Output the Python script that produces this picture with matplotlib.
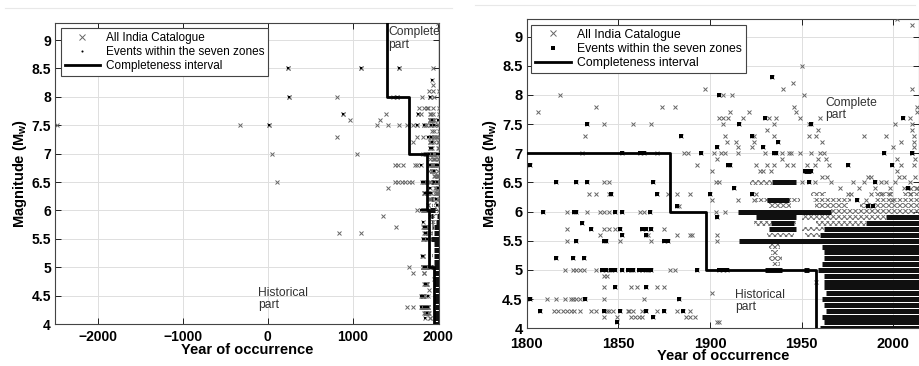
import numpy as np
import matplotlib
matplotlib.use("Agg")
import matplotlib.pyplot as plt
from matplotlib.ticker import FormatStrFormatter, MultipleLocator
from matplotlib.lines import Line2D

plt.rcParams['font.family'] = ['Liberation Sans', 'DejaVu Sans']
plt.rcParams['mathtext.fontset'] = 'custom'
plt.rcParams['mathtext.rm'] = 'Liberation Sans'
plt.rcParams['mathtext.bf'] = 'Liberation Sans:bold'
plt.rcParams['hatch.linewidth'] = 0.7

# ---------------- data ----------------
# pre-1800 events (All India Catalogue)
early_year = [245, 1095, 1546,
              257, 815, 1472, 1519,
              1785,
              890, 1390, 1773,
              970, 1323,
              -2480, -330, 20, 1290, 1410, 1546, 1644, 1715, 1760,
              815, 1753,
              1715,
              50, 1050,
              1492, 1538, 1597, 1727, 1762,
              105, 1492, 1538, 1580, 1620, 1660, 1695,
              1420, 1753, 1354, 1511,
              841, 1095,
              1668, 1715, 1644, 1715]
early_mag = [8.5, 8.5, 8.5,
             8.0, 8.0, 8.0, 8.0,
             7.8,
             7.7, 7.7, 7.7,
             7.6, 7.6,
             7.5, 7.5, 7.5, 7.5, 7.5, 7.5, 7.5, 7.5, 7.5,
             7.3, 7.3,
             7.2,
             7.0, 7.0,
             6.8, 6.8, 6.8, 6.8, 6.8,
             6.5, 6.5, 6.5, 6.5, 6.5, 6.5, 6.5,
             6.4, 6.0, 5.9, 5.7,
             5.6, 5.6,
             5.0, 4.9, 4.3, 4.3]
early_zone_year = [245, 257, 890, 1095, 1546, 1519, 20, 1773, 1760]
early_zone_mag = [8.5, 8.0, 7.7, 8.5, 8.5, 8.0, 7.5, 7.7, 7.5]

# post-1800 catalogue events (x only)
cat_year = [2002, 2010, 1950, 1945,
            1897, 1940, 2010,
            1818, 1907, 1912, 1951,
            1838, 1874, 1881, 1946, 2013,
            1806, 1911, 1921, 1947, 2013,
            1905, 1907, 1910, 1918, 1932, 1936, 1949, 1960, 2009,
            1842, 1858, 1868, 1907, 1935, 1954, 2001, 2010,
            1931, 1959, 2010,
            1832, 1908, 1924, 1935, 1954, 1958, 1984, 1996, 2011,
            1909, 1914, 1924, 1961, 2004, 2011,
            1915, 1923, 2000, 2011,
            1830, 1871, 1886, 1888, 1902, 1906, 1908, 1915, 1930, 1939, 1943, 1944, 1949, 1955, 1960, 1962, 2010,
            1904, 1939, 1959, 1963, 2002, 2012,
            1893, 1925, 1931, 1935, 1942, 1945, 1953, 1957, 1965, 2004, 2011,
            1901, 1927, 1929, 1933, 2002,
            1961, 1964, 1986, 1988, 2003, 2006, 2012,
            1842, 1845, 1903, 1905, 1950, 1957, 1966, 1978, 1984, 1993, 1996, 2001, 2009,
            1971, 1981, 1990, 1998, 2006, 2013,
            1834, 1838, 1845, 1877, 1882, 1889, 1925, 1975, 1977, 1988, 1993, 1998, 2009,
            1901, 1915, 1924, 1985, 1999,
            1883,
            1822, 1833, 1840, 1842, 1845, 1862, 1864, 1903, 1908,
            1822, 1842, 1845, 1848, 1875,
            1840, 1866, 1882, 1889, 1890, 1904,
            1822, 1851, 1868, 1904,
            1821, 1825, 1827, 1829, 1831, 1838, 1845, 1878, 1881,
            1842, 1844, 1958,
            1842, 1857, 1860, 1871, 1875, 1901,
            1811, 1816, 1821, 1824, 1825, 1827, 1829, 1842, 1864,
            1815, 1817, 1820, 1822, 1824, 1826, 1829, 1835, 1838, 1844, 1845, 1847,
            1855, 1856, 1858, 1863, 1871, 1882, 1889,
            1842, 1849, 1857, 1859, 1861, 1863, 1887, 1889, 1892,
            1904, 1905]
cat_mag = [9.3, 9.2, 8.5, 8.2,
           8.1, 8.1, 8.1,
           8.0, 8.0, 8.0, 8.0,
           7.8, 7.8, 7.8, 7.8, 7.8,
           7.7, 7.7, 7.7, 7.7, 7.7,
           7.6, 7.6, 7.6, 7.6, 7.6, 7.6, 7.6, 7.6, 7.6,
           7.5, 7.5, 7.5, 7.5, 7.5, 7.5, 7.5, 7.5,
           7.4, 7.4, 7.4,
           7.3, 7.3, 7.3, 7.3, 7.3, 7.3, 7.3, 7.3, 7.3,
           7.2, 7.2, 7.2, 7.2, 7.2, 7.2,
           7.1, 7.1, 7.1, 7.1,
           7.0, 7.0, 7.0, 7.0, 7.0, 7.0, 7.0, 7.0, 7.0, 7.0, 7.0, 7.0, 7.0, 7.0, 7.0, 7.0, 7.0,
           6.9, 6.9, 6.9, 6.9, 6.9, 6.9,
           6.8, 6.8, 6.8, 6.8, 6.8, 6.8, 6.8, 6.8, 6.8, 6.8, 6.8,
           6.7, 6.7, 6.7, 6.7, 6.7,
           6.6, 6.6, 6.6, 6.6, 6.6, 6.6, 6.6,
           6.5, 6.5, 6.5, 6.5, 6.5, 6.5, 6.5, 6.5, 6.5, 6.5, 6.5, 6.5, 6.5,
           6.4, 6.4, 6.4, 6.4, 6.4, 6.4,
           6.3, 6.3, 6.3, 6.3, 6.3, 6.3, 6.3, 6.3, 6.3, 6.3, 6.3, 6.3, 6.3,
           6.2, 6.2, 6.2, 6.2, 6.2,
           6.1,
           6.0, 6.0, 6.0, 6.0, 6.0, 6.0, 6.0, 6.0, 6.0,
           5.7, 5.7, 5.7, 5.7, 5.7,
           5.6, 5.6, 5.6, 5.6, 5.6, 5.6,
           5.5, 5.5, 5.5, 5.5,
           5.0, 5.0, 5.0, 5.0, 5.0, 5.0, 5.0, 5.0, 5.0,
           4.9, 4.9, 4.8,
           4.7, 4.7, 4.7, 4.7, 4.7, 4.6,
           4.5, 4.5, 4.5, 4.5, 4.5, 4.5, 4.5, 4.5, 4.5,
           4.3, 4.3, 4.3, 4.3, 4.3, 4.3, 4.3, 4.3, 4.3, 4.3, 4.3, 4.3,
           4.3, 4.3, 4.3, 4.3, 4.3, 4.3, 4.3,
           4.2, 4.2, 4.2, 4.2, 4.2, 4.2, 4.2, 4.2, 4.2,
           4.1, 4.1]

# post-1800 events within the seven zones (black squares)
zone_year = [1934, 1905, 1930, 2005, 1833, 1916, 1955, 1884, 1923, 1937, 1904, 1929,
             1852, 1862, 1864, 1895, 1935, 1936, 1995, 2010,
             1802, 1910, 1911, 1975, 1999,
             1952, 1953, 1955,
             1816, 1827, 1833, 1869, 1954, 1990,
             1913, 2008,
             1846, 1871, 1900, 1923,
             1980, 1882, 1986, 1989,
             1809, 1826, 1827, 1848, 1852, 1867,
             1904, 1830,
             1835, 1851, 1863, 1865, 1868,
             1852, 1865,
             1842, 1843, 1827, 1875, 1877,
             1816, 1825, 1831,
             1841, 1843, 1846, 1848, 1852, 1855, 1857, 1858, 1861, 1863, 1865, 1866, 1868,
             1893, 1905, 1907, 1909,
             1848, 1865,
             1802, 1832, 1883,
             1807, 1842, 1851, 1865, 1875, 1885,
             1869, 1849]
zone_mag = [8.3, 8.0, 7.6, 7.6, 7.5, 7.5, 7.5, 7.3, 7.3, 7.2, 7.1, 7.1,
            7.0, 7.0, 7.0, 7.0, 7.0, 7.0, 7.0, 7.0,
            6.8, 6.8, 6.8, 6.8, 6.8,
            6.7, 6.7, 6.7,
            6.5, 6.5, 6.5, 6.5, 6.5, 6.5,
            6.4, 6.4,
            6.3, 6.3, 6.3, 6.3,
            6.2, 6.1, 6.1, 6.1,
            6.0, 6.0, 6.0, 6.0, 6.0, 6.0,
            5.9, 5.8,
            5.7, 5.7, 5.7, 5.7, 5.7,
            5.6, 5.6,
            5.5, 5.5, 5.5, 5.5, 5.5,
            5.2, 5.2, 5.2,
            5.0, 5.0, 5.0, 5.0, 5.0, 5.0, 5.0, 5.0, 5.0, 5.0, 5.0, 5.0, 5.0,
            5.0, 5.0, 5.0, 5.0,
            4.7, 4.7,
            4.5, 4.5, 4.5,
            4.3, 4.3, 4.3, 4.3, 4.3, 4.3,
            4.2, 4.1]

# densely packed rows of zone events (magnitude, first year, last year)
dense_mag = [4.0, 4.1, 4.2, 4.3, 4.4, 4.5, 4.6, 4.7, 4.8, 4.9,
             5.0, 5.1, 5.2, 5.3, 5.4, 5.5, 5.6, 5.7, 5.8, 5.9,
             6.0, 5.0, 5.0, 5.7, 5.9, 6.2, 6.5, 6.7, 5.8]
dense_start = [1960, 1962, 1961, 1963, 1962, 1961, 1963, 1962, 1962, 1962,
               1959, 1961, 1962, 1962, 1961, 1916, 1960, 1962, 1985, 1996,
               1915, 1930, 1951, 1932, 1925, 1931, 1934, 1951, 1933]
dense_end = [2014, 2014, 2014, 2014, 2014, 2014, 2014, 2014, 2014, 2014,
             2014, 2014, 2014, 2014, 2014, 2014, 2014, 2014, 2014, 2014,
             1966, 1939, 1954, 1947, 1947, 1943, 1947, 1955, 1946]

# densely packed rows of catalogue-only events (overlapping crosses)
cross_mag = [6.5, 6.2, 6.2, 6.2, 6.1, 6.1, 6.1, 6.0, 6.3, 6.3, 5.9, 5.8, 5.8,
             5.6, 5.4, 5.3, 5.2, 5.1, 6.4, 5.7, 5.6, 5.9, 6.3]
cross_start = [1922, 1925, 1956, 1990, 1932, 1957, 1982, 1966, 1955, 2005, 1956, 1924, 1958,
               1931, 1932, 1933, 1932, 1934, 2008, 1950, 1952, 1950, 1990]
cross_end = [1934, 1949, 1977, 2014, 1944, 1975, 2014, 2014, 1963, 2014, 1996, 1947, 1985,
             1946, 1938, 1937, 1939, 1938, 2014, 1962, 1960, 1956, 2000]

# completeness interval: complete above comp_mag since comp_year
comp_year = [1400, 1660, 1878, 1898, 1958]
comp_mag = [8, 7, 6, 5, 4]

# ---------------- figure ----------------
fig = plt.figure(figsize=(9.2, 3.66), dpi=100)
W, H = 920.0, 366.0
axL = fig.add_axes([55 / W, 1 - 324 / H, (439 - 55) / W, (324 - 23) / H])
axR = fig.add_axes([526.7 / W, 1 - 328.3 / H, (919 - 526.7) / W, (328.3 - 19) / H])

XC = '#666666'
all_x_year = list(early_year) + list(cat_year) + list(zone_year) + list(early_zone_year)
all_x_mag = list(early_mag) + list(cat_mag) + list(zone_mag) + list(early_zone_mag)
sq_year = list(zone_year) + list(early_zone_year)
sq_mag = list(zone_mag) + list(early_zone_mag)


def draw(ax, xlim, xticks, fs_tick, ms_x, ms_sq, sq_marker, xpad):
    ax.set_xlim(*xlim)
    ax.set_ylim(4, 9.3)
    ax.set_axisbelow(True)
    ax.grid(True, color='#dedede', lw=0.7)
    # crosses bands
    for m, s, e in zip(cross_mag, cross_start, cross_end):
        ax.broken_barh([(s, e - s)], (m - 0.04, 0.08), facecolors='none',
                       edgecolors='#6e6e6e', hatch='xxxxxx', linewidth=0, zorder=2)
    ax.plot(all_x_year, all_x_mag, 'x', color=XC, ms=ms_x, mew=0.7, zorder=3)
    ax.hlines(dense_mag, dense_start, dense_end, colors='#101010', lw=3.6, zorder=4)
    ax.plot(sq_year, sq_mag, sq_marker, color='#000000', ms=ms_sq, mew=0, zorder=5)
    ymax = 9.6
    xs = np.repeat(comp_year, 2)
    ys = np.concatenate([[ymax], np.repeat(comp_mag, 2)[:-1]])
    ax.plot(xs, ys, '-', color='#000000', lw=2.0, zorder=6)
    ax.set_xticks(xticks)
    ax.yaxis.set_major_locator(MultipleLocator(0.5))
    ax.yaxis.set_major_formatter(FormatStrFormatter('%g'))
    ax.tick_params(direction='in', length=4, width=0.6, top=True, right=True,
                   labelsize=fs_tick, pad=3, colors='#000000')
    ax.tick_params(axis='x', pad=xpad)
    for lab in ax.get_xticklabels() + ax.get_yticklabels():
        lab.set_fontweight('bold')
    for sp in ax.spines.values():
        sp.set_color('#444444')
        sp.set_linewidth(0.8)
    ax.set_xlabel('Year of occurrence', fontsize=10.5, fontweight='bold', labelpad=-1)
    ax.set_ylabel(r'Magnitude (M$_{\mathbf{w}}$)', fontsize=10.5, fontweight='bold', labelpad=2)


draw(axL, (-2500, 2015), [-2000, -1000, 0, 1000, 2000], 10, 3.2, 1.8, 's', 4.5)
draw(axR, (1800, 2014), [1800, 1850, 1900, 1950, 2000], 10.5, 3.2, 2.6, 's', 6)


def legend(ax, anchor, sq_marker, sq_ms, fs):
    handles = [Line2D([], [], marker='x', ls='none', color=XC, ms=4, mew=0.7),
               Line2D([], [], marker=sq_marker, ls='none', color='k', ms=sq_ms, mew=0),
               Line2D([], [], color='k', lw=2.0)]
    labels = ['All India Catalogue', 'Events within the seven zones', 'Completeness interval']
    lg = ax.legend(handles, labels, loc='upper left', bbox_to_anchor=anchor,
                   borderaxespad=0, fontsize=fs, handlelength=3.0, handletextpad=0.5,
                   labelspacing=0.2, borderpad=0.3, fancybox=False, framealpha=1,
                   edgecolor='#444444')
    lg.get_frame().set_linewidth(0.8)
    lg.set_zorder(10)


legend(axL, (0.016, 0.983), '.', 3, 8.5)
legend(axR, (0.011, 0.981), 's', 3, 8.8)

tk = dict(fontsize=8.7, color='#333333', va='top', ha='left', linespacing=1.05, zorder=7)
axL.text(1420, 9.24, 'Complete\npart', clip_on=True, **tk)
axL.text(-110, 4.66, 'Historical\npart', **tk)
axR.text(1963, 7.97, 'Complete\npart', **tk)
axR.text(1913.5, 4.68, 'Historical\npart', **tk)

fig.add_artist(Line2D([5 / W, 452 / W], [1 - 8 / H] * 2, color='#e8e8e8', lw=0.8))
fig.add_artist(Line2D([475 / W, 915 / W], [1 - 5 / H] * 2, color='#e8e8e8', lw=0.8))

fig.savefig('out.png', dpi=100, facecolor='white')
